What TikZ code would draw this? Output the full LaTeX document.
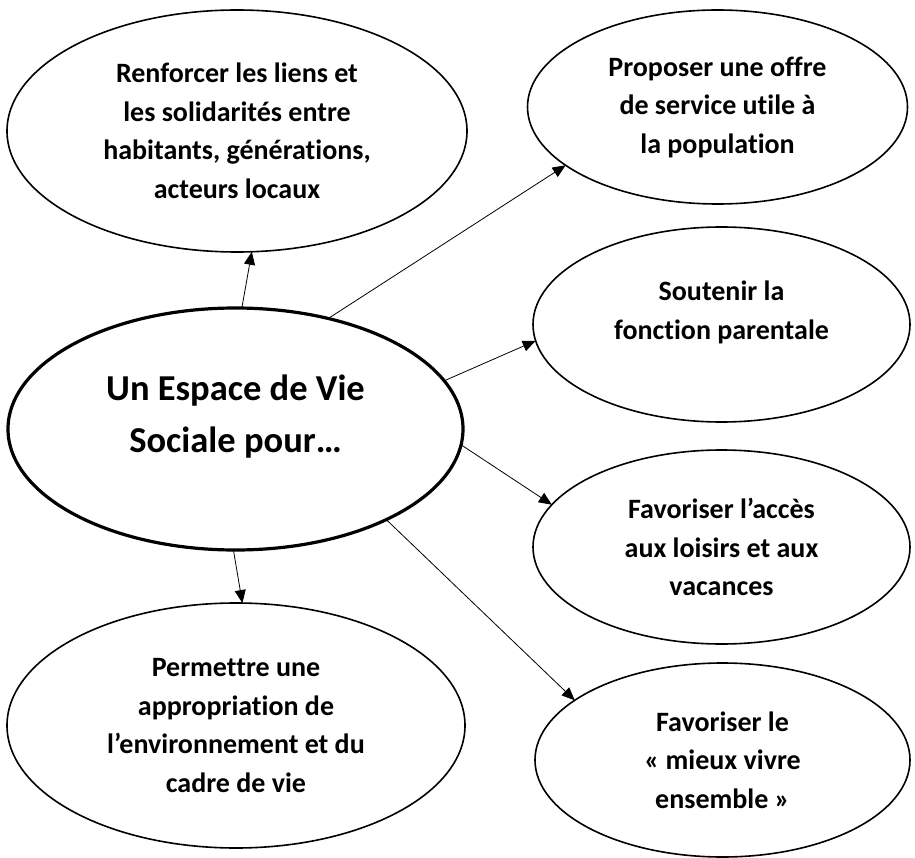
\documentclass[tikz,border=0pt]{standalone}
\usepackage{fontspec}
\setmainfont{Carlito}[Ligatures=NoCommon]
\usetikzlibrary{arrows.meta,shapes.geometric}
\begin{document}
\begin{tikzpicture}[x=1pt,y=-1pt,
  goal/.style={ellipse,draw,line width=1.6pt,inner sep=0pt,outer sep=0pt,align=center,
    font=\bfseries\fontsize{28}{38.5}\selectfont},
  hub/.style={ellipse,draw,line width=3.2pt,inner sep=0pt,outer sep=0pt,align=center,
    font=\bfseries\fontsize{36.5}{52}\selectfont},
  link/.style={line width=0.8pt,-{Triangle[length=13pt,width=11pt]}}]
\useasboundingbox (0,0) rectangle (915,858);

\node[hub,minimum width=455pt,minimum height=242pt] (c) at (235.5,429)
  {Un Espace de Vie\\Sociale pour…\\[-22pt]\mbox{}};

\node[goal,minimum width=460pt,minimum height=242pt] (e1) at (237,131)
  {Renforcer les liens et\\les solidarités entre\\habitants, générations,\\acteurs locaux};
\node[goal,minimum width=380pt,minimum height=194pt] (e2) at (717.5,107)
  {Proposer une offre\\de service utile à\\la population};
\node[goal,minimum width=377pt,minimum height=195pt] (e4) at (721.5,324.5)
  {Soutenir la\\fonction parentale\\[-10pt]\mbox{}};
\node[goal,minimum width=377pt,minimum height=194pt] (e5) at (721.5,547)
  {Favoriser l’accès\\aux loisirs et aux\\vacances};
\node[goal,minimum width=458pt,minimum height=245pt] (e6) at (236,725.5)
  {Permettre une\\appropriation de\\l’environnement et du\\cadre de vie};
\node[goal,minimum width=375pt,minimum height=194pt] (e7) at (722.5,760)
  {Favoriser le\\« mieux vivre\\ensemble »};

\draw[link] (c.87.9) -- (e1.-83);
\draw[link] (c.50.8) -- (e2.-159.8);
\draw[link] (c.13.5) -- (e4.185);
\draw[link] (c.-4.7) -- (e5.166.2);
\draw[link] (c.-31.8) -- (e7.158.5);
\draw[link] (c.-91.2) -- (e6.87.2);
\end{tikzpicture}
\end{document}
